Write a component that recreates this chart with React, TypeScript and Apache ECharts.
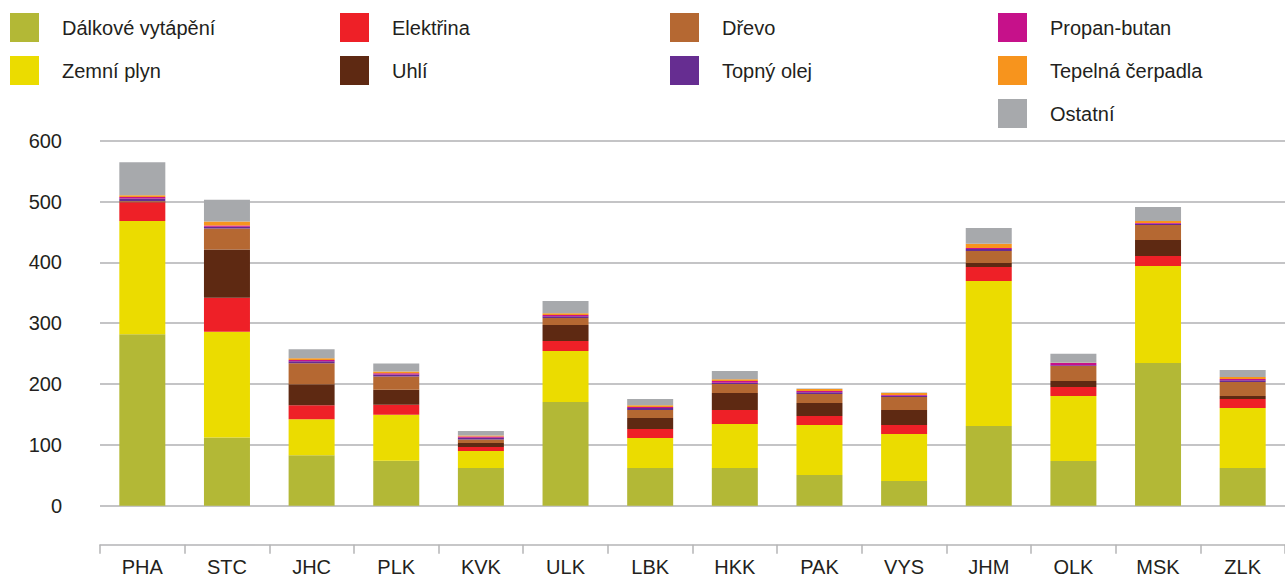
import React, { useEffect, useRef } from "react";
import * as echarts from "echarts";

const categories = ["PHA", "STC", "JHC", "PLK", "KVK", "ULK", "LBK", "HKK", "PAK", "VYS", "JHM", "OLK", "MSK", "ZLK"];

const seriesNames = [
  "Dálkové vytápění",
  "Zemní plyn",
  "Elektřina",
  "Uhlí",
  "Dřevo",
  "Topný olej",
  "Propan-butan",
  "Tepelná čerpadla",
  "Ostatní",
];

const seriesColors = ["#B3B836", "#EBDC00", "#EE2027", "#5E2912", "#B56832", "#662D91", "#C6118A", "#F7941D", "#A7A9AC"];

const dalkove = [282, 112, 83, 74, 62, 170.5, 62, 62, 50.4, 40.6, 131, 73.5, 234.6, 62];
const zemniPlyn = [186, 174, 59, 75.7, 28, 83.9, 49.3, 72.4, 82.2, 77.3, 238.5, 106.9, 159.5, 98.7];
const elektrina = [31, 56, 23, 16.4, 6.6, 16.4, 14.8, 23, 14.8, 14.8, 23, 14.8, 16.4, 14.8];
const uhli = [1, 79, 34.5, 24.7, 6.6, 26.3, 18.1, 28, 21.4, 24.7, 6.6, 9.9, 26.3, 4.9];
const drevo = [1, 34.5, 34.5, 21.4, 5.5, 11.5, 13.2, 14.8, 14.8, 21.4, 19.7, 24.7, 24.7, 23];
const topnyOlej = [4, 3, 3.5, 3.5, 3, 3, 3, 2, 3, 2, 3, 1, 2, 3];
const propanButan = [2.5, 2, 2, 2, 1.9, 1.9, 1.9, 2.9, 1.9, 1.3, 1.9, 3.9, 1.3, 1.9];
const tepelnaCerpadla = [3, 6.5, 2.7, 2.7, 1.6, 2.7, 2.7, 2.7, 3.3, 3.3, 7.1, 0.3, 3.3, 3.3];
const ostatni = [54, 36, 14.8, 13.2, 7.7, 20.3, 10.4, 13.7, 0.8, 0.5, 25.8, 14.8, 23, 11.5];

const seriesValues = [dalkove, zemniPlyn, elektrina, uhli, drevo, topnyOlej, propanButan, tepelnaCerpadla, ostatni];

const yTicks = { min: 0, max: 600, interval: 100 };

// legend layout: column-major order
const legendColumns = [
  [0, 1],
  [2, 3],
  [4, 5],
  [6, 7, 8],
];

const TEXT_COLOR = "#231F20";
const FONT = "'Liberation Sans', Arial, Helvetica, sans-serif";

export default function App() {
  const ref = useRef<HTMLDivElement>(null);

  useEffect(() => {
    if (!ref.current) return;
    const chart = echarts.init(ref.current, null, { renderer: "svg" });

    const colX = [10, 340, 670, 998];
    const rowY = [13, 56, 99];
    const graphic: any[] = [];
    legendColumns.forEach((col, ci) => {
      col.forEach((si, ri) => {
        graphic.push({
          type: "rect",
          shape: { x: colX[ci], y: rowY[ri], width: 29, height: 29 },
          style: { fill: seriesColors[si] },
          silent: true,
        });
        graphic.push({
          type: "text",
          x: colX[ci] + 52,
          y: rowY[ri] + 15,
          style: {
            text: seriesNames[si],
            fill: TEXT_COLOR,
            font: `20px ${FONT}`,
            verticalAlign: "middle",
            align: "left",
          },
          silent: true,
        });
      });
    });

    chart.setOption({
      animation: false,
      textStyle: { fontFamily: FONT },
      grid: { left: 100, width: 1195, top: 140.7, bottom: 71.3, containLabel: false },
      graphic,
      xAxis: {
        type: "category",
        data: categories,
        offset: 39,
        axisLine: { show: true, onZero: false, lineStyle: { color: "#B4B4B6", width: 1.5 } },
        axisTick: { show: true, length: 9, inside: false, lineStyle: { color: "#B4B4B6", width: 1.5 } },
        axisLabel: { color: TEXT_COLOR, fontSize: 20, margin: 12, fontFamily: FONT },
      },
      yAxis: {
        type: "value",
        min: yTicks.min,
        max: yTicks.max,
        interval: yTicks.interval,
        axisLine: { show: false },
        axisTick: { show: false },
        axisLabel: { color: TEXT_COLOR, fontSize: 20, margin: 38, fontFamily: FONT },
        splitLine: { lineStyle: { color: "#C4C4C6", width: 2 } },
      },
      series: seriesNames.map((name, i) => ({
        name,
        type: "bar",
        stack: "total",
        barWidth: 46,
        data: seriesValues[i],
        itemStyle: { color: seriesColors[i] },
        emphasis: { disabled: true },
      })),
    });

    return () => chart.dispose();
  }, []);

  return (
    <div
      ref={ref}
      style={{ position: "absolute", left: 0, top: 0, width: 1285, height: 577, background: "#fff" }}
    />
  );
}
